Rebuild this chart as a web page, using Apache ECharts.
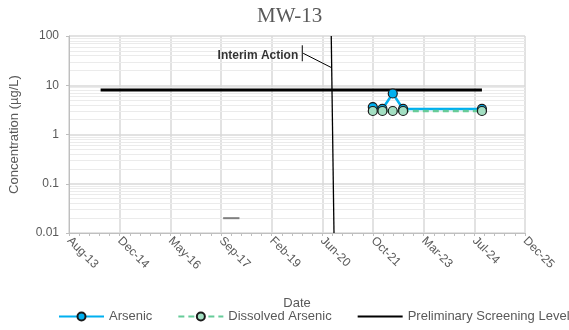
<!DOCTYPE html>
<html><head><meta charset="utf-8">
<script src="https://cdn.jsdelivr.net/npm/echarts@6/dist/echarts.min.js"></script>
<style>html,body{margin:0;padding:0;background:#fff}#c{width:569px;height:330px}</style>
</head><body><div id="c"></div>
<script>
// ---- data ----
const sampleDates = ['2021-10-29', '2022-02-01', '2022-05-14', '2022-08-24', '2024-10-10'];
const arsenicValues = [3.6, 3.3, 6.8, 3.3, 3.3];
const dissolvedValues = [3.0, 3.0, 3.0, 3.0, 3.0];
const screeningDates = ['2014-06-22', '2024-10-10'];
const screeningValues = [8, 8];
const interimDates = ['2020-09-14', '2020-10-11'];
const interimValues = [100, 0.01];
const calloutTickDates = ['2019-12-03', '2019-12-03'];
const calloutTickValues = [64.8, 30.7];
const calloutLeaderDates = ['2019-12-12', '2020-09-14'];
const calloutLeaderValues = [44.6, 22.9];
const calloutLabelDate = ['2019-12-03'];
const calloutLabelValue = [39.3];
const calloutLabelText = 'Interim Action';
const stubDates = ['2017-10-13', '2018-03-23'];
const stubValues = [0.02, 0.02];
const xTickLabels = ['Aug-13', 'Dec-14', 'May-16', 'Sep-17', 'Feb-19', 'Jun-20', 'Oct-21', 'Mar-23', 'Jul-24', 'Dec-25'];
const yTickLabels = ['0.01', '0.1', '1', '10', '100'];
const xMinSerial = 41500, xMaxSerial = 46000, xStep = 500;

// ---- helpers ----
const EXCEL_EPOCH = Date.UTC(1899, 11, 30);
function toSerial(s) { return Math.round((Date.parse(s) - EXCEL_EPOCH) / 86400000); }
function pairs(dates, vals) { return dates.map((d, i) => [toSerial(d), vals[i]]); }

const minorGrid = [];
[0.01, 0.1, 1, 10].forEach(dec => { for (let m = 2; m <= 9; m++) minorGrid.push({ yAxis: +(m * dec).toPrecision(6) }); });

const FONT = '"Liberation Sans", Arial, sans-serif';
const TXT = '#595959';

const chart = echarts.init(document.getElementById('c'), null, { renderer: 'canvas' });
chart.setOption({
  animation: false,
  backgroundColor: '#fff',
  title: {
    text: 'MW-13', left: 252, top: 1,
    textStyle: { fontFamily: '"Liberation Serif", "Times New Roman", serif', fontSize: 21, fontWeight: 'normal', color: TXT }
  },
  legend: {
    data: ['Arsenic', 'Dissolved Arsenic',
      { name: 'Preliminary Screening Level', itemStyle: { opacity: 0 } }],
    left: 58, top: 310, padding: 0, width: 560, itemWidth: 45, itemHeight: 10, itemGap: 25,
    textStyle: { fontFamily: FONT, fontSize: 13, color: TXT }
  },
  grid: { left: 68, right: 44, top: 36, bottom: 97, containLabel: false },
  xAxis: {
    type: 'value', min: xMinSerial, max: xMaxSerial, interval: xStep,
    name: 'Date', nameLocation: 'middle', nameGap: 64,
    nameTextStyle: { fontFamily: FONT, fontSize: 13, color: TXT },
    axisLine: { show: true, onZero: false, lineStyle: { color: '#bfbfbf', width: 1 } },
    axisTick: { show: true, length: 3, lineStyle: { color: '#bfbfbf' } },
    minorTick: { show: true, splitNumber: 5, length: 3, lineStyle: { color: '#bfbfbf' } },
    splitLine: { show: true, lineStyle: { color: '#d9d9d9', width: 1.5 } },
    axisLabel: {
      rotate: -45, margin: 6, fontFamily: FONT, fontSize: 12, color: TXT,
      formatter: v => xTickLabels[Math.round((v - xMinSerial) / xStep)] || ''
    }
  },
  yAxis: {
    type: 'log', logBase: 10, min: 0.01, max: 100, interval: 1,
    name: 'Concentration (µg/L)', nameLocation: 'middle', nameGap: 48,
    nameTextStyle: { fontFamily: FONT, fontSize: 13, color: TXT },
    axisLine: { show: true, lineStyle: { color: '#bfbfbf', width: 1 } },
    axisTick: { show: true, length: 3, lineStyle: { color: '#bfbfbf' } },
    splitLine: { show: true, lineStyle: { color: '#d9d9d9', width: 1.5 } },
    axisLabel: {
      margin: 10, fontFamily: FONT, fontSize: 12, color: TXT,
      formatter: v => { const i = Math.round(Math.log10(v)) + 2; return yTickLabels[i] || ''; }
    }
  },
  series: [
    {
      name: 'minorGrid', type: 'line', data: [], silent: true, z: 0,
      markLine: { z: 0, silent: true, symbol: 'none', label: { show: false }, animation: false,
        lineStyle: { color: '#ebebeb', width: 1, type: 'solid' }, data: minorGrid }
    },
    {
      name: 'Preliminary Screening Level', type: 'line', z: 3,
      data: pairs(screeningDates, screeningValues), symbol: 'none',
      itemStyle: { color: '#000' }, lineStyle: { color: '#000', width: 3 }
    },
    {
      name: 'interim', type: 'line', z: 3, data: pairs(interimDates, interimValues),
      symbol: 'none', lineStyle: { color: '#000', width: 1.3 }, silent: true
    },
    {
      name: 'calloutTick', type: 'line', z: 3, data: pairs(calloutTickDates, calloutTickValues),
      symbol: 'none', lineStyle: { color: '#000', width: 1 }, silent: true
    },
    {
      name: 'calloutLeader', type: 'line', z: 3, data: pairs(calloutLeaderDates, calloutLeaderValues),
      symbol: 'none', lineStyle: { color: '#000', width: 1 }, silent: true
    },
    {
      name: 'calloutLabel', type: 'scatter', z: 3, data: pairs(calloutLabelDate, calloutLabelValue),
      symbolSize: 0, silent: true,
      label: { show: true, position: 'left', distance: 4, formatter: calloutLabelText,
        fontFamily: FONT, fontSize: 12, fontWeight: 'bold', color: '#000' }
    },
    {
      name: 'stub', type: 'line', z: 3, data: pairs(stubDates, stubValues),
      symbol: 'none', lineStyle: { color: '#7f7f7f', width: 2 }, silent: true
    },
    {
      name: 'Arsenic', type: 'line', z: 4, data: pairs(sampleDates, arsenicValues),
      symbol: 'circle', symbolSize: 9,
      itemStyle: { color: '#00b0f0', borderColor: '#1a1a1a', borderWidth: 1.2 },
      lineStyle: { color: '#00b0f0', width: 2.5 }
    },
    {
      name: 'Dissolved Arsenic', type: 'line', z: 5, data: pairs(sampleDates, dissolvedValues),
      symbol: 'circle', symbolSize: 9,
      itemStyle: { color: '#a3dfc2', borderColor: '#1a1a1a', borderWidth: 1.2 },
      lineStyle: { color: '#66cc99', width: 2.5, type: [6, 4] }
    }
  ]
});
</script>
</body></html>
